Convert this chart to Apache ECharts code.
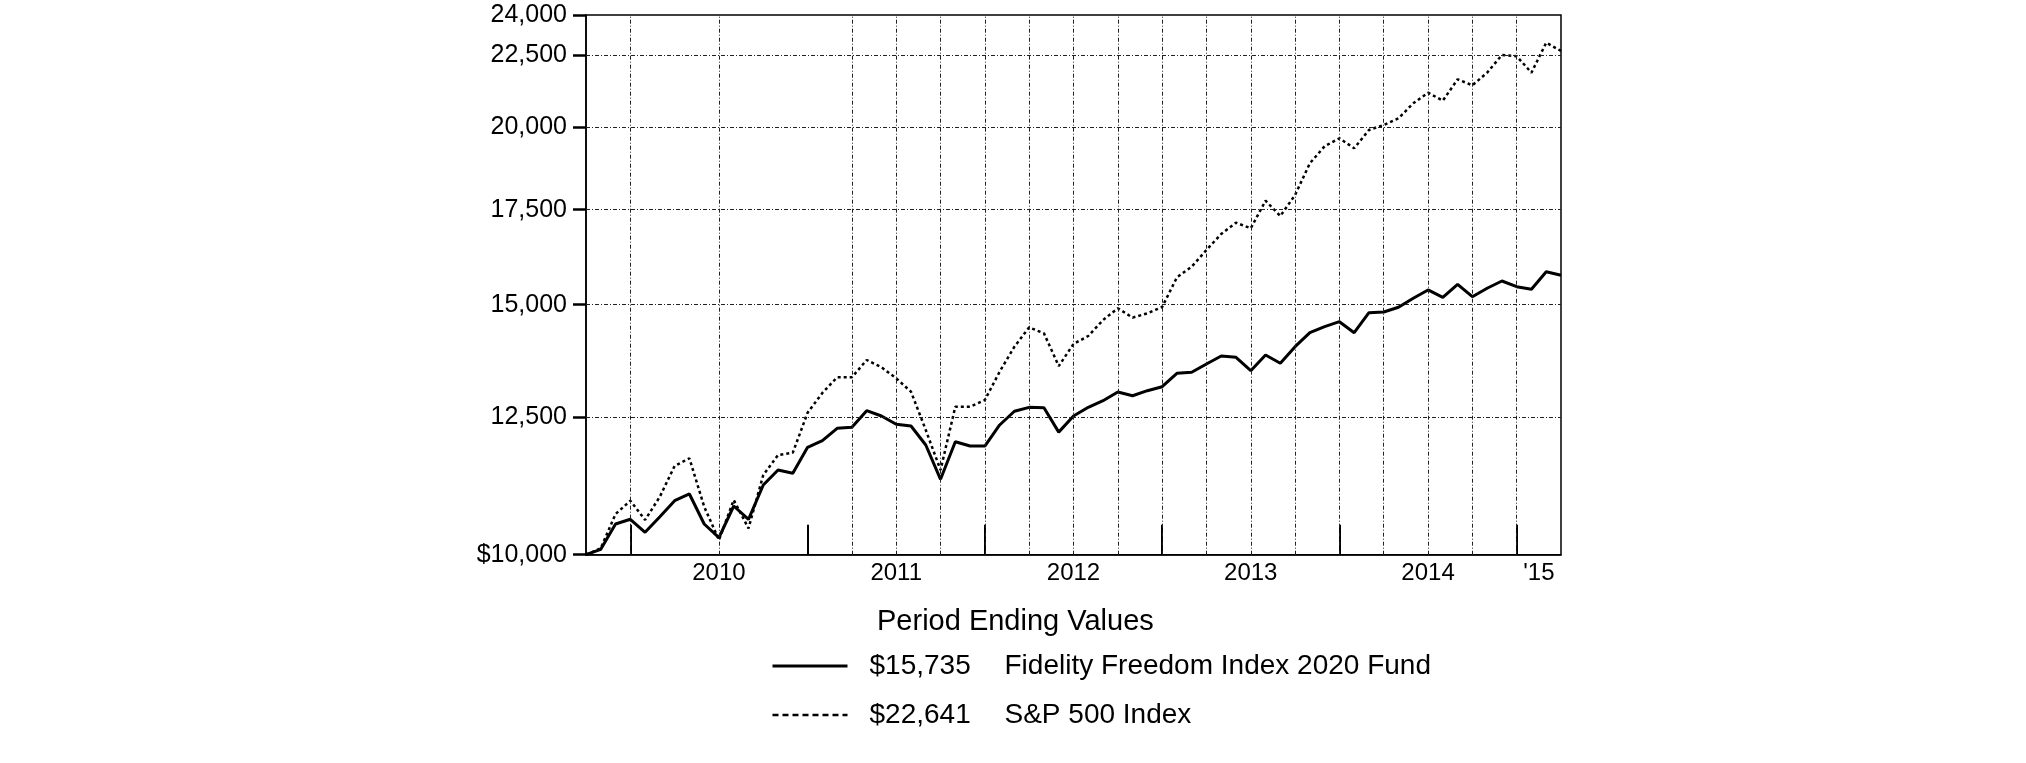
<!DOCTYPE html>
<html>
<head>
<meta charset="utf-8">
<script src="https://cdn.jsdelivr.net/npm/echarts@6/dist/echarts.min.js"></script>
<style>
  html, body { margin: 0; padding: 0; background: #fff; }
  #chart { width: 2026px; height: 763px; }
</style>
</head>
<body>
<div id="chart"></div>
<script>
// Month-end values, Sep 30 2009 (start, index 0) through Mar 31 2015 (index 66)
const fundValues = [
  10000, 10088, 10511, 10591, 10370, 10636, 10915, 11035, 10511, 10280,
  10822, 10591, 11197, 11473, 11411, 11903, 12031, 12276, 12296, 12632,
  12523, 12356, 12322, 11948, 11301, 12012, 11928, 11928, 12342, 12620,
  12700, 12690, 12200, 12523, 12701, 12838, 13020, 12942, 13048, 13132,
  13422, 13443, 13625, 13803, 13774, 13478, 13825, 13641, 14013, 14335,
  14476, 14593, 14335, 14808, 14824, 14938, 15158, 15364, 15182, 15505,
  15197, 15406, 15589, 15446, 15380, 15826, 15735
];
const spValues = [
  10000, 10105, 10682, 10915, 10580, 10987, 11548, 11693, 10810, 10241,
  10928, 10437, 11380, 11755, 11800, 12590, 13000, 13335, 13335, 13714,
  13553, 13312, 13027, 12242, 11473, 12714, 12714, 12852, 13456, 14013,
  14460, 14320, 13580, 14075, 14259, 14633, 14914, 14690, 14793, 14945,
  15680, 15955, 16394, 16825, 17137, 16980, 17758, 17322, 17923, 18869,
  19397, 19650, 19333, 19916, 20078, 20298, 20798, 21158, 20886, 21622,
  21413, 21857, 22493, 22450, 21857, 22946, 22641
];
const seriesNames = ['Fidelity Freedom Index 2020 Fund', 'S&P 500 Index'];
const yTickValues = [10000, 12500, 15000, 17500, 20000, 22500, 24000];
const yearTickIdx = [3, 15, 27, 39, 51, 63];             // Jan 1 of each year
const yearLabelIdx = [9, 21, 33, 45, 57, 64.5];          // label centres
const yearLabels = ['2010', '2011', '2012', '2013', '2014', "'15"];
const vGridIdx = [3, 9, 18, 21, 24, 27, 30, 33, 36, 39, 42, 45, 48, 51, 54, 57, 60, 63];
const hGridValues = [12500, 15000, 17500, 20000, 22500];

const FONT = "'Liberation Sans', Arial, sans-serif";
const fmtMoney = v => '$' + Math.round(v).toLocaleString('en-US');
const lastFund = fundValues[fundValues.length - 1];
const lastSp = spValues[spValues.length - 1];

const chart = echarts.init(document.getElementById('chart'));
const gridLineStyle = { color: '#222', width: 1, type: [4, 2, 1, 2] };

chart.setOption({
  backgroundColor: '#fff',
  animation: false,
  title: {
    text: 'Period Ending Values',
    left: 877, top: 607, padding: 0,
    textStyle: { fontFamily: FONT, fontSize: 29, fontWeight: 'normal', color: '#000' }
  },
  legend: {
    orient: 'vertical',
    left: 766, top: 647,
    itemWidth: 75, itemHeight: 14,
    itemGap: 21,
    data: [
      { name: seriesNames[0], itemStyle: { opacity: 0 }, lineStyle: { width: 3, color: '#000', type: 'solid' } },
      { name: seriesNames[1], itemStyle: { opacity: 0 }, lineStyle: { width: 2.5, color: '#000', type: [6, 4] } }
    ],
    formatter: name => {
      const v = name === seriesNames[0] ? lastFund : lastSp;
      return '{g|}{v|' + fmtMoney(v) + '}{n|' + name + '}';
    },
    textStyle: {
      fontFamily: FONT, color: '#000',
      rich: {
        g: { width: 17, height: 30 },
        v: { width: 135, fontSize: 28, fontFamily: FONT, lineHeight: 30 },
        n: { fontSize: 28, fontFamily: FONT, lineHeight: 30 }
      }
    }
  },
  grid: {
    left: 586, top: 15, width: 975, height: 539.7,
    show: true, borderColor: '#000', borderWidth: 1.5, backgroundColor: 'transparent'
  },
  xAxis: {
    type: 'value', min: 0, max: fundValues.length - 1,
    axisLine: { show: true, lineStyle: { color: '#000', width: 1.5 } },
    axisTick: { show: true, inside: true, length: 30, customValues: yearTickIdx, lineStyle: { color: '#000', width: 2 } },
    axisLabel: {
      customValues: yearLabelIdx, margin: 7,
      formatter: v => yearLabels[yearLabelIdx.indexOf(v)] || '',
      fontFamily: FONT, fontSize: 24, color: '#000'
    },
    splitLine: { show: false }
  },
  yAxis: {
    type: 'log', logBase: 10, min: 10000, max: 24000,
    axisLine: { show: true, lineStyle: { color: '#000', width: 1.5 } },
    axisTick: { show: true, length: 13, customValues: yTickValues, lineStyle: { color: '#000', width: 2.5 } },
    axisLabel: {
      customValues: yTickValues, margin: 19,
      formatter: v => Math.round(v) === 10000 ? fmtMoney(v) : Math.round(v).toLocaleString('en-US'),
      fontFamily: FONT, fontSize: 25, color: '#000'
    },
    splitLine: { show: false }
  },
  series: [
    {
      name: 'gridlines', type: 'line', data: [], z: 1, silent: true,
      markLine: {
        silent: true, symbol: 'none', label: { show: false },
        lineStyle: gridLineStyle,
        data: vGridIdx.map(i => ({ xAxis: i })).concat(hGridValues.map(v => ({ yAxis: v })))
      }
    },
    {
      name: seriesNames[0], type: 'line', symbol: 'none', z: 4,
      data: fundValues.map((v, i) => [i, v]),
      lineStyle: { color: '#000', width: 3, type: 'solid' },
      itemStyle: { color: '#000' }
    },
    {
      name: seriesNames[1], type: 'line', symbol: 'none', z: 3,
      data: spValues.map((v, i) => [i, v]),
      lineStyle: { color: '#000', width: 2.5, type: [3, 3] },
      itemStyle: { color: '#000' }
    }
  ]
});
</script>
</body>
</html>
